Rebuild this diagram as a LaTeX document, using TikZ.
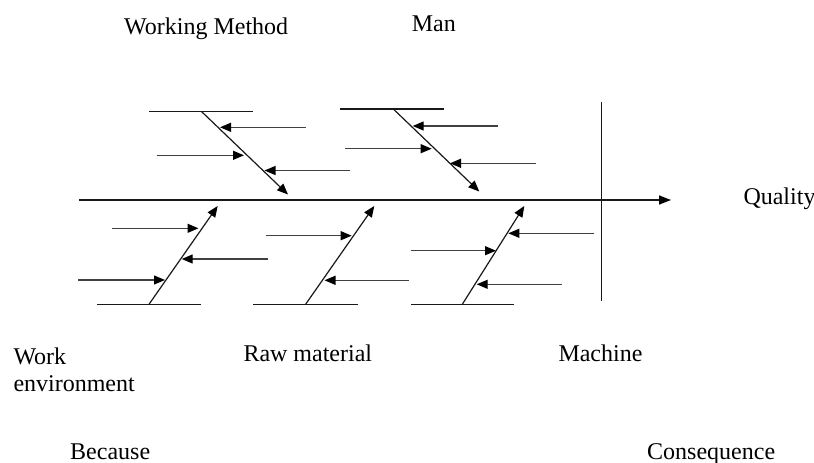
\documentclass[tikz,border=0pt]{standalone}
\usepackage{fontspec}
\setmainfont{Liberation Serif}
\usetikzlibrary{arrows.meta}
\begin{document}
\begin{tikzpicture}[x=1pt,y=-1pt,
  lbl/.style={anchor=base west,inner sep=0pt,font=\fontsize{24}{28}\selectfont},
  bone/.style={line width=1.2pt,draw=black!90},
  arr/.style={bone,-{Triangle[length=11pt,width=9pt,color=black]}},
  rib/.style={line width=1.2pt,draw=black!75,-{Triangle[length=11pt,width=9pt,color=black]}}]
\useasboundingbox (0,0) rectangle (814,463);

% main spine and effect bar
\coordinate (s0) at (79,200);
\coordinate (s1) at (671,200);
\draw[line width=1.5pt,draw=black!90,-{Triangle[length=12pt,width=9pt,color=black]}] (s0) -- (s1);
\coordinate (v0) at (601.5,102);
\coordinate (v1) at (601.5,301);
\draw[line width=1.4pt,draw=black!90] (v0) -- (v1);

% upper left bone
\coordinate (a0) at (149,111.5); \coordinate (a1) at (253,111.5);
\coordinate (ad0) at (201.5,111.5); \coordinate (ad1) at (288,194.5);
\draw[bone] (a0) -- (a1);
\draw[arr] (ad0) -- (ad1);
\coordinate (ar1s) at (306,127.3);   \coordinate (ar1e) at (220,127.3);
\coordinate (ar2s) at (156.5,155.3); \coordinate (ar2e) at (244,155.3);
\coordinate (ar3s) at (350,170.5);   \coordinate (ar3e) at (264.5,170.5);
\draw[rib] (ar1s) -- (ar1e);
\draw[rib] (ar2s) -- (ar2e);
\draw[rib] (ar3s) -- (ar3e);

% upper middle bone
\coordinate (b0) at (339.5,109); \coordinate (b1) at (443.5,109);
\coordinate (bd0) at (393.3,109); \coordinate (bd1) at (479.3,191.5);
\draw[bone] (b0) -- (b1);
\draw[arr] (bd0) -- (bd1);
\coordinate (br1s) at (498.3,126);   \coordinate (br1e) at (412.7,126);
\coordinate (br2s) at (345,148.7);   \coordinate (br2e) at (431.7,148.7);
\coordinate (br3s) at (536,163.3);   \coordinate (br3e) at (450,163.3);
\draw[rib] (br1s) -- (br1e);
\draw[rib] (br2s) -- (br2e);
\draw[rib] (br3s) -- (br3e);

% lower left bone
\coordinate (c0) at (97.3,304.3); \coordinate (c1) at (201,304.3);
\coordinate (cd0) at (149,304.3); \coordinate (cd1) at (217.7,206);
\draw[bone] (c0) -- (c1);
\draw[arr] (cd0) -- (cd1);
\coordinate (cr1s) at (111.7,228.3); \coordinate (cr1e) at (198.5,228.3);
\coordinate (cr2s) at (268.3,259);   \coordinate (cr2e) at (181.7,259);
\coordinate (cr3s) at (78.3,280);    \coordinate (cr3e) at (165,280);
\draw[rib] (cr1s) -- (cr1e);
\draw[rib] (cr2s) -- (cr2e);
\draw[rib] (cr3s) -- (cr3e);

% lower middle bone
\coordinate (d0) at (253.3,304.3); \coordinate (d1) at (358.3,304.3);
\coordinate (dd0) at (305.6,304.3); \coordinate (dd1) at (374.3,206);
\draw[bone] (d0) -- (d1);
\draw[arr] (dd0) -- (dd1);
\coordinate (dr1s) at (265.7,235.7); \coordinate (dr1e) at (351.7,235.7);
\coordinate (dr2s) at (409,280.3);   \coordinate (dr2e) at (324.5,280.3);
\draw[rib] (dr1s) -- (dr1e);
\draw[rib] (dr2s) -- (dr2e);

% lower right bone
\coordinate (e0) at (411,304.3); \coordinate (e1) at (514,304.3);
\coordinate (ed0) at (462.3,304.3); \coordinate (ed1) at (524.3,206);
\draw[bone] (e0) -- (e1);
\draw[arr] (ed0) -- (ed1);
\coordinate (er1s) at (594,233.3);   \coordinate (er1e) at (508.3,233.3);
\coordinate (er2s) at (410.7,250.7); \coordinate (er2e) at (496,250.7);
\coordinate (er3s) at (561.7,284.3); \coordinate (er3e) at (476.7,284.3);
\draw[rib] (er1s) -- (er1e);
\draw[rib] (er2s) -- (er2e);
\draw[rib] (er3s) -- (er3e);

% category and result labels
\node[lbl] (tmethod) at (124,34.3) {Working Method};
\node[lbl] (tman) at (411.7,31.7) {Man};
\node[lbl] (tquality) at (743.3,204) {Quality};
\node[lbl] (twork) at (13.3,364.3) {Work};
\node[lbl] (tenv) at (13.3,391.7) {environment};
\node[lbl] (traw) at (243.3,361) {Raw material};
\node[lbl] (tmachine) at (558.3,361.7) {Machine};
\node[lbl] (tbecause) at (70,459) {Because};
\node[lbl] (tconseq) at (647,459) {Consequence};
\end{tikzpicture}
\end{document}
